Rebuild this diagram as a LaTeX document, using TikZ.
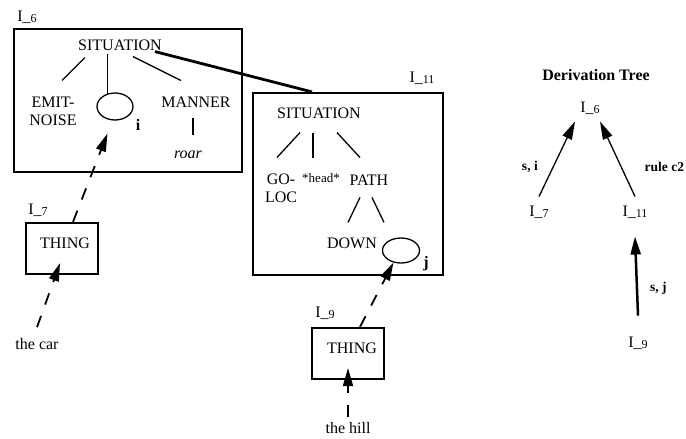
\documentclass[tikz,border=0pt]{standalone}
\usepackage{fontspec}
\setmainfont{Liberation Serif}
\usepackage{tikz}
\usetikzlibrary{shapes.geometric, arrows.meta, positioning}

\newcommand{\inst}[1]{I\_\raisebox{-1pt}{\fontsize{12}{12}\selectfont #1}}

\begin{document}
\begin{tikzpicture}[
  x=1pt, y=-1pt,
  every node/.style={font=\fontsize{16}{18}\selectfont, inner sep=1pt},
  ibox/.style={rectangle, draw, line width=2.2pt, inner sep=0pt},
  slot/.style={ellipse, draw, line width=1.3pt, inner sep=0pt},
  bmark/.style={font=\fontsize{16}{18}\selectfont\bfseries},
  lbl/.style={font=\fontsize{13.5}{16}\selectfont\bfseries},
  branch/.style={line width=1.3pt},
  dasharr/.style={line width=1.8pt, dash pattern=on 12pt off 12pt,
                  -{Triangle[length=18pt,width=10pt]}},
  deriv/.style={line width=1.3pt, -{Triangle[length=18pt,width=10pt]}},
]
  \useasboundingbox (0,0) rectangle (686,439);

  % I_6 : the emit-noise situation
  \node[ibox, minimum width=228pt, minimum height=143pt] (b6) at (128,100.5) {};
  \node (t6) at (27,17) {\inst{6}};
  \node (sit6) at (120,45) {SITUATION};
  \node[align=center] (emit) at (53,111) {EMIT-\\NOISE};
  \node[slot, minimum width=36pt, minimum height=27pt] (ei) at (115,106.5) {};
  \node[bmark] (mi) at (138,125) {i};
  \node (manner) at (196,102) {MANNER};
  \node[font=\fontsize{16}{18}\selectfont\itshape] (roar) at (188,155) {roar};

  \draw[branch] ([xshift=-35pt,yshift=-6pt]sit6.south) -- ([xshift=9pt,yshift=15pt]emit.north);
  \draw[branch, shorten <=2pt] (ei.120 |- sit6.south) -- (ei.120);
  \draw[branch] ([xshift=13pt,yshift=-5pt]sit6.south) -- ([xshift=-15pt,yshift=15pt]manner.north);
  \draw[branch] ([xshift=-3pt,yshift=-10pt]manner.south) -- ([xshift=5pt,yshift=15pt]roar.north);

  % I_11 : the go-loc situation
  \node[ibox, minimum width=190pt, minimum height=182pt] (b11) at (348,184) {};
  \node (t11) at (422,78) {\inst{11}};
  \node (sit11) at (319,113) {SITUATION};
  \node[align=center] (goloc) at (281,188) {GO-\\LOC};
  \node[font=\fontsize{13}{15}\selectfont] (head) at (321,178) {*head*};
  \node (path) at (369,180) {PATH};
  \node (down) at (352,243) {DOWN};
  \node[slot, minimum width=37pt, minimum height=25pt] (ej) at (401,250.5) {};
  \node[bmark] (mj) at (426,264) {j};

  \draw[branch] ([xshift=-19pt,yshift=-13pt]sit11.south) -- ([xshift=-4pt,yshift=15pt]goloc.north);
  \draw[branch] ([xshift=-6pt,yshift=-13pt]sit11.south) -- ([xshift=-8pt,yshift=14pt]head.north);
  \draw[branch] ([xshift=18pt,yshift=-13pt]sit11.south) -- ([xshift=-9pt,yshift=16pt]path.north);
  \draw[branch] ([xshift=-9pt,yshift=-11pt]path.south) -- ([xshift=-4pt,yshift=14pt]down.north);
  \draw[branch] ([xshift=3pt,yshift=-11pt]path.south) -- ([xshift=-17pt,yshift=15pt]ej.north);

  \draw[line width=2.8pt] ([xshift=-8pt]sit6.south east) -- ([xshift=-36pt]b11.north);

  % I_7 and I_9 : the things
  \node[ibox, minimum width=72pt, minimum height=51pt] (b7) at (62,248.5) {};
  \node (t7) at (38,210) {\inst{7}};
  \node (thing7) at (65,243) {THING};
  \node (car) at (37,344) {the car};

  \node[ibox, minimum width=72pt, minimum height=51pt] (b9) at (348,353.5) {};
  \node (t9) at (325,313) {\inst{9}};
  \node (thing9) at (352,348) {THING};
  \node (hill) at (348,428) {the hill};

  \draw[dasharr] ([yshift=10pt]car.north) -- ([xshift=-2pt,yshift=12pt]b7.south);
  \draw[dasharr, shorten >=14pt] ([xshift=11pt]b7.north) -- (ei.260);
  \draw[dasharr] ([yshift=4pt]hill.north) -- ([yshift=12pt]b9.south);
  \draw[dasharr] ([xshift=12pt]b9.north) -- (ej.238);

  % derivation tree
  \node[font=\fontsize{16}{18}\selectfont\bfseries] (title) at (596,75) {Derivation Tree};
  \node (d6) at (590,108) {\inst{6}};
  \node (d7) at (539,212) {\inst{7}};
  \node (d11) at (635,212) {\inst{11}};
  \node (d9) at (638,343) {\inst{9}};

  \draw[deriv] ([yshift=8pt]d7.north) -- node[lbl, pos=0.4, left=14pt] {s, i} ([xshift=-15pt,yshift=-6pt]d6.south);
  \draw[deriv] ([yshift=8pt]d11.north) -- node[lbl, pos=0.4, right=22pt] {rule c2} ([xshift=10pt,yshift=-6pt]d6.south);
  \draw[deriv, line width=2.5pt] ([yshift=20pt]d9.north) -- node[lbl, pos=0.35, right=11pt] {s, j} ([yshift=-17pt]d11.south);
\end{tikzpicture}
\end{document}
